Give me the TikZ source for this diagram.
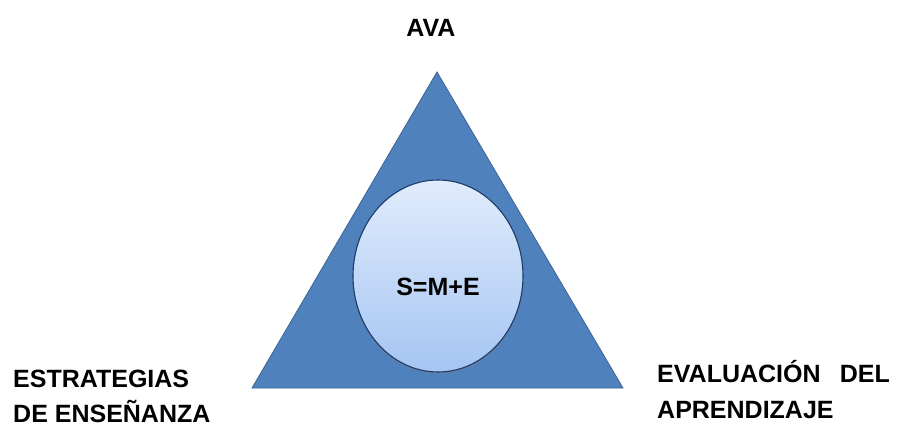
\documentclass[tikz,border=0pt]{standalone}
\usepackage{fontspec}
\setmainfont{Liberation Sans}
\usetikzlibrary{shapes.geometric,shadows}
\definecolor{triFill}{HTML}{4F81BD}
\definecolor{triEdge}{HTML}{3B6594}
\definecolor{circTop}{HTML}{E0ECFC}
\definecolor{circBot}{HTML}{A6C5F3}
\definecolor{circEdge}{HTML}{1F3A66}
\tikzset{
  lbl/.style={font=\bfseries\fontsize{25}{29}\selectfont, text=black, inner sep=0pt},
}
\begin{document}
\begin{tikzpicture}[x=1pt,y=-1pt]
\useasboundingbox (0,0) rectangle (899,428);
\fill[white] (0,0) rectangle (899,428);
% triangle
\coordinate (apex) at (437,72);
\coordinate (bl) at (252,388);
\coordinate (br) at (623,388);
\filldraw[fill=triFill, draw=triEdge, line width=0.8pt] (apex) -- (bl) -- (br) -- cycle;
% inner circle
\node[ellipse, draw=circEdge, line width=1.1pt, minimum width=170pt, minimum height=192pt,
      top color=circTop, bottom color=circBot,
      drop shadow={shadow xshift=0pt, shadow yshift=-2pt, opacity=0.35}] (circ) at (438,276) {};
\node[lbl, anchor=base] (sme) at (438,295) {S=M+E};
% labels
\node[lbl, anchor=base] (ava) at (431,37) {AVA};
\node[lbl, anchor=base west] (est1) at (13,387) {ESTRATEGIAS};
\node[lbl, anchor=base west] (est2) at (13,422) {DE ENSEÑANZA};
\node[lbl, anchor=base west] (eva1) at (657,382) {EVALUACIÓN};
\node[lbl, anchor=base east] (eva2) at (890,382) {DEL};
\node[lbl, anchor=base west] (eva3) at (657,418) {APRENDIZAJE};
\end{tikzpicture}
\end{document}
